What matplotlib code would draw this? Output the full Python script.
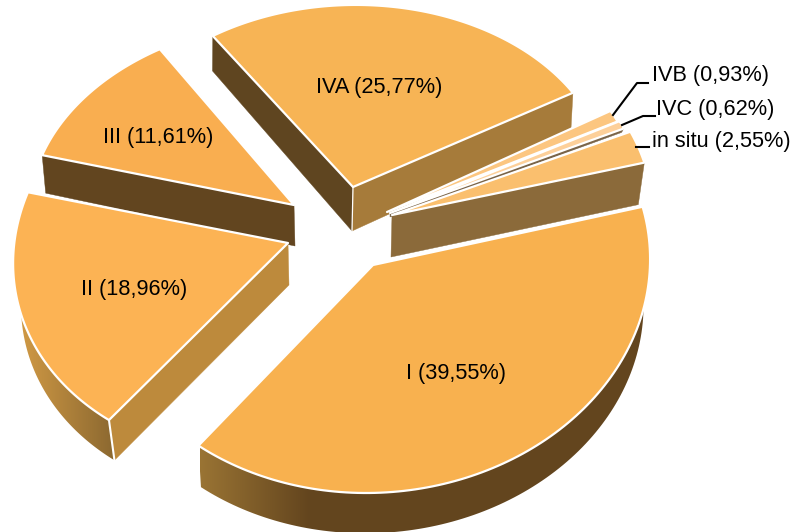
import numpy as np
import matplotlib
matplotlib.use("Agg")
import matplotlib.pyplot as plt
from matplotlib.colors import LinearSegmentedColormap
from matplotlib.patches import Polygon

plt.rcParams["font.family"] = ["Liberation Sans", "DejaVu Sans"]

# chart data, clockwise from the start angle
stages = ["I", "II", "III", "IVA", "IVB", "IVC", "in situ"]
shares = [39.55, 18.96, 11.61, 25.77, 0.93, 0.62, 2.55]

START_ANGLE = -14.8

# one entry per slice: where the tip sits and how the circle is projected
tips = [(373, 265), (288, 243), (294, 205), (353, 187), (387, 212), (390, 213), (392, 215)]
# (a, c, e, b): dx = a cos + c sin, dy = e cos + b sin
projection = [(277, -7, 0, 228), (274.5, -14.6, -8.8, 216.7), (264.2, -8.5, -0.7, 184.9),
              (255.3, 4.3, -5.1, 182), (257, 0, 0, 205), (256, 0, 0, 208), (261, 0, 0, 205)]
# (shift x, depth, scale x, scale y) of the bottom face
bottoms = [(-1, 46, 0.98, 0.975), (1, 42, 0.975, 0.99), (1, 41, 0.99, 1.06),
           (-1, 44, 0.995, 1.06), (0, 3, 1, 1), (0, 4, 0.99, 1.0), (-1, 42, 0.98, 1.0)]

top_colors = ["#f8b14f", "#fcb354", "#f9ae50", "#f7b455", "#fcc680", "#fdd09a", "#fabf6e"]
# side faces: slice -> list of (use end angle?, colour)
cut_faces = {
    1: [(False, "#bd8a3c")],
    2: [(False, "#62451f")],
    3: [(False, "#5f4520"), (True, "#a67b3a")],
    5: [(True, "#7a6448")],
    6: [(True, "#8b6a3a")],
}
# rim gradients: slice -> (left colour, right colour, left x, right x)
rims = {
    0: ("#9a7434", "#63451e", 200, 310),
    1: ("#d49c46", "#8b6830", 15, 115),
}
white_edges = {1: False, 3: False}  # vertical white line at the front corner

label_pos = [(456, 374), (134, 289), (158, 138), (379, 88), (710, 75), (715, 110), (721, 142)]
leaders = {
    4: [(613, 115), (637, 83), (648, 83)],
    5: [(622, 125), (643, 116), (655, 116)],
    6: [(636, 147), (649, 147)],
}
draw_order = [3, 4, 5, 6, 2, 1, 0]

fig = plt.figure(figsize=(7.92, 5.32), dpi=100)
ax = fig.add_axes([0, 0, 1, 1])


def top_point(i, theta):
    a, c, e, b = projection[i]
    x, y = tips[i]
    return x + a * np.cos(theta) + c * np.sin(theta), y + e * np.cos(theta) + b * np.sin(theta)


def bottom_point(i, theta):
    a, c, e, b = projection[i]
    x, y = tips[i]
    sx, depth, kx, ky = bottoms[i]
    return (x + sx + kx * (a * np.cos(theta) + c * np.sin(theta)),
            y + depth + ky * (e * np.cos(theta) + b * np.sin(theta)))


def bottom_tip(i):
    x, y = tips[i]
    return x + bottoms[i][0], y + bottoms[i][1]


def draw_slice(i, t0, t1, z):
    thetas = np.linspace(t0, t1, 120)

    # outer rim, only the slices that show it
    if i in rims:
        upper = np.column_stack(top_point(i, thetas))
        lower = np.column_stack(bottom_point(i, thetas))
        rim = Polygon(np.vstack([upper, lower[::-1]]), closed=True, fc="none", ec="none", zorder=z)
        ax.add_patch(rim)
        left, right, x0, x1 = rims[i]
        cmap = LinearSegmentedColormap.from_list("rim", [left, right])
        img = ax.imshow(np.linspace(0, 1, 256).reshape(1, -1), cmap=cmap, aspect="auto",
                        extent=[x0, x1, 532, 0], zorder=z, interpolation="bilinear")
        img.set_clip_path(rim)
        # past the gradient ends the colour just continues
        if i == 0:
            img2 = ax.imshow([[0]], cmap=LinearSegmentedColormap.from_list("d", [right, right]),
                             aspect="auto", extent=[x1, 792, 532, 0], zorder=z)
            img2.set_clip_path(rim)

    # cut faces from the tip out to the rim
    for use_end, color in cut_faces.get(i, []):
        t = t1 if use_end else t0
        pts = [tips[i], top_point(i, t), bottom_point(i, t), bottom_tip(i)]
        ax.add_patch(Polygon(pts, closed=True, fc=color, ec=color, lw=0.3, zorder=z + 0.1))

    # white corner lines
    if i in white_edges:
        t = t1 if white_edges[i] else t0
        if i == 3:
            ax.plot([tips[i][0], bottom_tip(i)[0]], [tips[i][1], bottom_tip(i)[1]],
                    color="white", lw=0.9, zorder=z + 0.2)
        else:
            pa, pb = top_point(i, t), bottom_point(i, t)
            ax.plot([pa[0], pb[0]], [pa[1], pb[1]], color="white", lw=1.5, zorder=z + 0.2)

    # top face
    outline = np.vstack([[tips[i]], np.column_stack(top_point(i, thetas))])
    ax.add_patch(Polygon(outline, closed=True, fc=top_colors[i], ec="white", lw=1.6,
                         joinstyle="round", zorder=z + 0.3))


# angles come straight from the shares
total = sum(shares)
edges = np.radians(START_ANGLE + np.cumsum([0] + shares) / total * 360)

for z, i in enumerate(draw_order):
    draw_slice(i, edges[i], edges[i + 1], z + 1)

for i, stage in enumerate(stages):
    text = f"{stage} ({shares[i]:.2f}%)".replace(".", ",")
    ax.text(label_pos[i][0], label_pos[i][1], text, fontsize=15.7, color="black",
            ha="center", va="center", zorder=20)

for pts in leaders.values():
    xs, ys = zip(*pts)
    ax.plot(xs, ys, color="black", lw=1.5, zorder=19)

ax.set_xlim(0, 792)
ax.set_ylim(532, 0)
ax.axis("off")

fig.savefig("out.png", dpi=100)
